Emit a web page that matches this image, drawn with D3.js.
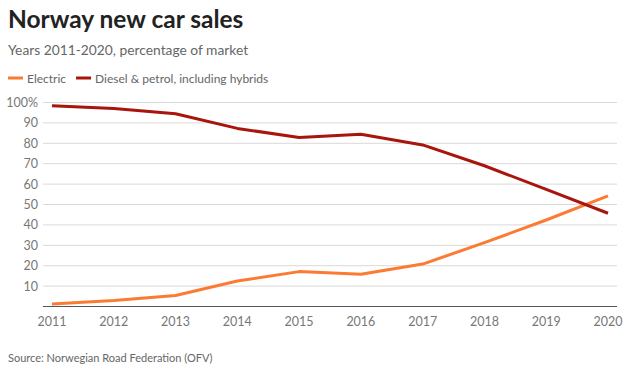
<!DOCTYPE html>
<html>
<head>
<meta charset="utf-8">
<script src="https://cdn.jsdelivr.net/npm/d3@7"></script>
<style>
  body { margin: 0; background: #fff; font-family: "Source Sans Pro", Lato, "Noto Sans", sans-serif; }
</style>
</head>
<body>
<div id="chart"></div>
<script>
const years = [2011, 2012, 2013, 2014, 2015, 2016, 2017, 2018, 2019, 2020];
const electric = [1.2, 2.9, 5.4, 12.5, 17.1, 15.8, 20.8, 31.3, 42.4, 54.2];
const fossil = [98.4, 97.1, 94.5, 87.3, 82.8, 84.4, 79.2, 69.0, 57.4, 45.7];
const yTicks = [10, 20, 30, 40, 50, 60, 70, 80, 90, 100];
const seriesNames = ["Electric", "Diesel & petrol, including hybrids"];
const seriesColors = ["#fb7b33", "#a8150c"];

const width = 640, height = 377;
const svg = d3.select("#chart").append("svg")
  .attr("width", width)
  .attr("height", height)
  .style("display", "block");

const x = d3.scaleLinear().domain([2011, 2020]).range([52, 608]);
const y = d3.scaleLinear().domain([0, 100]).range([306.5, 102.5]);

svg.append("text")
  .attr("x", 8).attr("y", 28)
  .attr("font-size", 24.5).attr("font-weight", 700)
  .attr("fill", "#222")
  .text("Norway new car sales");

svg.append("text")
  .attr("x", 8).attr("y", 55)
  .attr("font-size", 13.8)
  .attr("fill", "#666")
  .text("Years 2011-2020, percentage of market");

// legend
const legend = svg.append("g").attr("transform", "translate(8,78)");
let lx = 0;
seriesNames.forEach((name, i) => {
  legend.append("line")
    .attr("x1", lx).attr("x2", lx + 15)
    .attr("y1", 0).attr("y2", 0)
    .attr("stroke", seriesColors[i]).attr("stroke-width", 3);
  const t = legend.append("text")
    .attr("x", lx + 19).attr("y", 4.5)
    .attr("font-size", 12).attr("fill", "#666")
    .text(name);
  lx += 19 + t.node().getComputedTextLength() + 10;
});

// grid
svg.append("g")
  .selectAll("line")
  .data(yTicks)
  .join("line")
  .attr("x1", 43).attr("x2", 617)
  .attr("y1", (d) => y(d)).attr("y2", (d) => y(d))
  .attr("stroke", "#d9d9d9").attr("stroke-width", 1);

svg.append("g")
  .selectAll("text")
  .data(yTicks)
  .join("text")
  .attr("x", 38).attr("y", (d) => y(d) + 4.5)
  .attr("text-anchor", "end")
  .attr("font-size", 12.5).attr("fill", "#777")
  .text((d) => d === 100 ? "100%" : d);

svg.append("line")
  .attr("x1", 43).attr("x2", 617)
  .attr("y1", y(0)).attr("y2", y(0))
  .attr("stroke", "#555").attr("stroke-width", 1.2);

svg.append("g")
  .selectAll("text")
  .data(years)
  .join("text")
  .attr("x", (d) => x(d)).attr("y", 326)
  .attr("text-anchor", "middle")
  .attr("font-size", 12.5).attr("fill", "#777")
  .text((d) => d);

const line = d3.line()
  .x((d, i) => x(years[i]))
  .y((d) => y(d));

[electric, fossil].forEach((vals, i) => {
  svg.append("path")
    .datum(vals)
    .attr("d", line)
    .attr("fill", "none")
    .attr("stroke", seriesColors[i])
    .attr("stroke-width", 3)
    .attr("stroke-linejoin", "round");
});

svg.append("text")
  .attr("x", 8).attr("y", 362)
  .attr("font-size", 11).attr("fill", "#666")
  .text("Source: Norwegian Road Federation (OFV)");
</script>
</body>
</html>
